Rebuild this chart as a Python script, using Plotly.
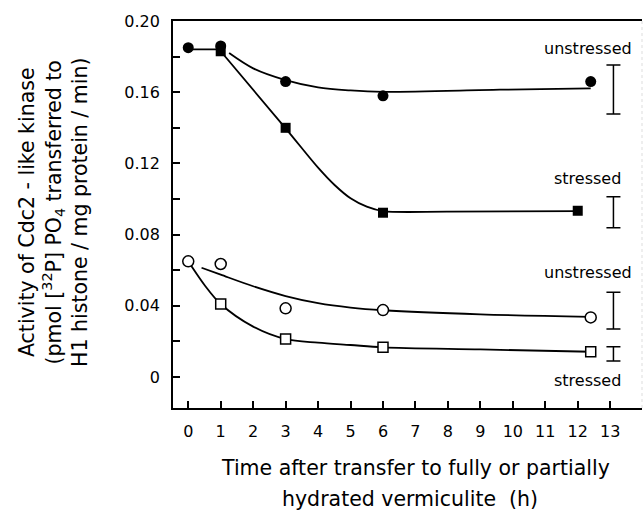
import plotly.graph_objects as go

# ---- data ----
# filled circles: unstressed (fully hydrated)
t_fc = [0, 1, 3, 6, 12.4]
v_fc = [0.185, 0.186, 0.166, 0.158, 0.166]
# filled squares: stressed
t_fs = [1, 3, 6, 12]
v_fs = [0.183, 0.140, 0.0923, 0.0934]
# open circles: unstressed
t_oc = [0, 1, 3, 6, 12.4]
v_oc = [0.065, 0.0635, 0.0386, 0.0376, 0.0335]
# open squares: stressed
t_os = [1, 3, 6, 12.4]
v_os = [0.041, 0.0213, 0.0167, 0.0142]

# fitted curves
fc_seg_t = [0, 1]
fc_seg_v = [0.1841, 0.1841]
fc_fit_t = [1.26, 2, 3, 4, 5, 6, 9.6, 12.4]
fc_fit_v = [0.182, 0.1734, 0.1668, 0.1627, 0.161, 0.1602, 0.1614, 0.1622]
fs_fit_t = [1, 3, 4, 4.5, 5, 5.5, 6, 8, 12]
fs_fit_v = [0.183, 0.1397, 0.1176, 0.108, 0.1004, 0.0957, 0.0932, 0.0929, 0.0932]
oc_fit_t = [0.41, 1, 2, 3, 4, 5, 6, 9, 12.4]
oc_fit_v = [0.0614, 0.0575, 0.0510, 0.0455, 0.0415, 0.0390, 0.0375, 0.0352, 0.0338]
os_fit_t = [0, 0.5, 1, 2, 3, 4, 5, 6, 9, 12.4]
os_fit_v = [0.065, 0.0517, 0.041, 0.0283, 0.0213, 0.0193, 0.018, 0.0167, 0.0155, 0.0142]

# error bars at right
eb_t = [13.1, 13.1, 13.1, 13.1]
eb_v = [0.1615, 0.0926, 0.0373, 0.0130]
eb_e = [0.0138, 0.0087, 0.0103, 0.0040]

# labels
label_text = ["unstressed", "stressed", "unstressed", "stressed"]
label_t = [12.32, 12.31, 12.32, 12.31]
label_v = [0.1848, 0.1118, 0.0586, -0.0017]

x_ticks = list(range(0, 14))
y_ticks = [0, 0.04, 0.08, 0.12, 0.16, 0.20]
y_tick_text = ["0", "0.04", "0.08", "0.12", "0.16", "0.20"]

FONT = "DejaVu Sans"
LW = 1.8

fig = go.Figure()

def curve(t, v):
    fig.add_trace(go.Scatter(x=t, y=v, mode="lines",
                             line=dict(color="black", width=LW, shape="spline", smoothing=0.9),
                             hoverinfo="skip", showlegend=False))

curve(fc_seg_t, fc_seg_v)
curve(fc_fit_t, fc_fit_v)
curve(fs_fit_t, fs_fit_v)
curve(oc_fit_t, oc_fit_v)
curve(os_fit_t, os_fit_v)

fig.add_trace(go.Scatter(x=t_fc, y=v_fc, mode="markers",
                         marker=dict(symbol="circle", size=11, color="black"), showlegend=False))
fig.add_trace(go.Scatter(x=t_fs, y=v_fs, mode="markers",
                         marker=dict(symbol="square", size=10, color="black"), showlegend=False))
fig.add_trace(go.Scatter(x=t_oc, y=v_oc, mode="markers",
                         marker=dict(symbol="circle", size=11, color="white",
                                     line=dict(color="black", width=1.5)), showlegend=False))
fig.add_trace(go.Scatter(x=t_os, y=v_os, mode="markers",
                         marker=dict(symbol="square", size=10, color="white",
                                     line=dict(color="black", width=1.5)), showlegend=False))

fig.add_trace(go.Scatter(x=eb_t, y=eb_v, mode="markers",
                         marker=dict(size=1, color="rgba(0,0,0,0)"),
                         error_y=dict(type="data", array=eb_e, visible=True,
                                      color="black", thickness=1.5, width=7),
                         showlegend=False))

for txt, t, v in zip(label_text, label_t, label_v):
    fig.add_annotation(x=t, y=v, xref="x", yref="y", text=txt, showarrow=False,
                       xanchor="center", yanchor="middle",
                       font=dict(family=FONT, size=16, color="black"))

# axis titles
fig.add_annotation(x=(53 - 173) / 469, y=(408 - 213) / 387, xref="paper", yref="paper",
                   text="Activity of Cdc2 - like kinase<br>(pmol [<sup>32</sup>P] PO<sub>4</sub> transferred to<br>H1 histone / mg protein / min)",
                   textangle=-90, showarrow=False, xanchor="center", yanchor="middle",
                   font=dict(family=FONT, size=20.5, color="black"))
fig.add_annotation(x=(415 - 173) / 469, y=(408 - 468) / 387, xref="paper", yref="paper",
                   text="Time after transfer to fully or partially", showarrow=False,
                   xanchor="center", yanchor="middle",
                   font=dict(family=FONT, size=20.5, color="black"))
fig.add_annotation(x=(410 - 173) / 469, y=(408 - 499) / 387, xref="paper", yref="paper",
                   text="hydrated vermiculite  (h)", showarrow=False,
                   xanchor="center", yanchor="middle",
                   font=dict(family=FONT, size=20.5, color="black"))

# faint right border
fig.add_shape(type="line", xref="paper", yref="paper", x0=1, x1=1, y0=0, y1=1,
              line=dict(color="#dddddd", width=1, dash="dot"))

fig.update_xaxes(range=[-0.47, 13.98], tickvals=x_ticks, ticks="inside", ticklen=7,
                 tickwidth=1.5, tickcolor="black", showline=True, linecolor="black",
                 linewidth=1.8, mirror=True, showgrid=False, zeroline=False,
                 tickfont=dict(family=FONT, size=16, color="black"), ticklabelstandoff=8)
fig.update_yaxes(range=[-0.0174, 0.2], tickvals=y_ticks, ticktext=y_tick_text,
                 ticks="inside", ticklen=7, tickwidth=1.5, tickcolor="black",
                 minor=dict(tickvals=[0.02, 0.06, 0.10, 0.14, 0.18], ticks="inside",
                            ticklen=7, tickwidth=1.5, tickcolor="black"),
                 showline=True, linecolor="black", linewidth=1.8, mirror=False,
                 showgrid=False, zeroline=False,
                 tickfont=dict(family=FONT, size=16, color="black"), ticklabelstandoff=8)

fig.update_layout(width=643, height=516, margin=dict(l=173, r=1, t=21, b=108),
                  paper_bgcolor="white", plot_bgcolor="white", showlegend=False)

fig.write_html("out.html")
